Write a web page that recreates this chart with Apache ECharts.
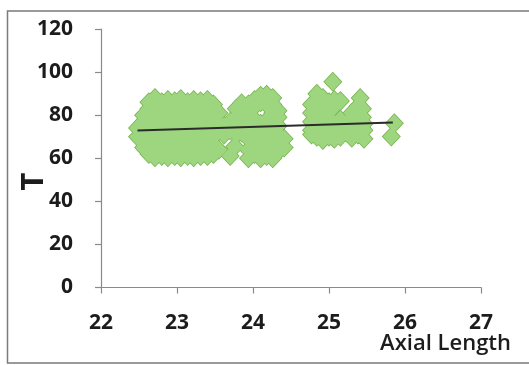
<!DOCTYPE html>
<html>
<head>
<meta charset="utf-8">
<script src="https://cdn.jsdelivr.net/npm/echarts@6/dist/echarts.min.js"></script>
<style>
  html, body { margin: 0; padding: 0; background: #fff; }
  #chart { width: 529px; height: 365px; }
</style>
</head>
<body>
<div id="chart"></div>
<script>
// Axial length (x) and T (y) values
var axialLength = [
  22.48, 22.48,
  22.56, 22.56, 22.56, 22.56, 22.56,
  22.63, 22.63, 22.63, 22.63, 22.63, 22.63, 22.63,
  22.71, 22.71, 22.71, 22.71, 22.71, 22.71, 22.71, 22.71,
  22.80, 22.80, 22.80, 22.80, 22.80, 22.80, 22.80,
  22.88, 22.88, 22.88, 22.88, 22.88, 22.88, 22.88, 22.88,
  22.97, 22.97, 22.97, 22.97, 22.97, 22.97, 22.97,
  23.05, 23.05, 23.05, 23.05, 23.05, 23.05, 23.05, 23.05,
  23.14, 23.14, 23.14, 23.14, 23.14, 23.14, 23.14,
  23.22, 23.22, 23.22, 23.22, 23.22, 23.22, 23.22, 23.22,
  23.31, 23.31, 23.31, 23.31, 23.31, 23.31, 23.31,
  23.40, 23.40, 23.40, 23.40, 23.40, 23.40, 23.40, 23.40,
  23.48, 23.48, 23.48, 23.48, 23.48, 23.48, 23.48,
  23.55, 23.55, 23.55,
  23.62, 23.62,
  23.70, 23.70, 23.70,
  23.78, 23.78, 23.78, 23.78, 23.76,
  23.85, 23.85, 23.85, 23.85,
  23.94, 23.94, 23.94, 23.94, 23.94, 23.94, 23.94,
  24.02, 24.02, 24.02, 24.02, 24.02, 24.02, 24.02,
  24.10, 24.10, 24.10, 24.10, 24.10, 24.10, 24.10,
  24.18, 24.18, 24.18, 24.18, 24.18, 24.18, 24.18,
  24.26, 24.26, 24.26, 24.26, 24.26, 24.26, 24.26, 24.26,
  24.33, 24.33, 24.33, 24.33, 24.33, 24.33,
  24.41, 24.41,
  24.77, 24.77, 24.77, 24.77, 24.77,
  24.84, 24.84, 24.84, 24.84, 24.84, 24.84,
  24.92, 24.92, 24.92, 24.92, 24.92, 24.92,
  25.00, 25.00, 25.00, 25.00, 25.00,
  25.07, 25.07, 25.07, 25.07, 25.07,
  25.15,
  25.05,
  25.41, 25.38, 25.44, 25.36, 25.44, 25.30,
  25.15, 25.15, 25.15,
  25.23, 25.23,
  25.30, 25.30, 25.30,
  25.38, 25.38,
  25.46, 25.46, 25.46,
  25.86, 25.82
];
var tValue = [
  70, 74,
  65, 69, 73, 77, 80,
  62, 66, 71, 75, 79, 83, 86,
  60.5, 64, 68, 72, 76, 80, 84, 88,
  61, 66, 70, 74, 78, 82, 86,
  60.5, 64, 68, 72, 76, 80, 84, 87,
  61, 66, 70, 74, 78, 82, 86.5,
  60.5, 64, 68, 72, 76, 80, 84, 87.5,
  61, 66, 70, 74, 78, 82, 86,
  60.5, 64, 68, 72, 76, 80, 84, 87,
  61, 66, 70, 74, 78, 82, 86.5,
  61, 64, 68, 72, 76, 80, 84, 87,
  62, 66, 70, 74, 78, 82, 85,
  64, 76, 81,
  71, 75,
  61, 73, 77,
  71, 75, 79, 83, 65.5,
  72, 76, 80, 85.5,
  60, 64, 69, 73, 77, 81, 85,
  62, 66, 70, 74, 78, 84, 87,
  60, 64, 68, 72, 76, 86, 89,
  61, 65, 70, 74, 77.5, 85, 89.5,
  60, 64, 68, 72, 76, 81, 85, 88,
  63, 67, 71, 75, 79, 82,
  65, 69,
  71, 73, 77, 81, 85,
  70, 75, 79, 83, 87, 90,
  68.5, 72, 76, 80, 84, 88,
  70, 74, 78, 82, 86,
  69, 72, 76, 84, 87,
  86.6,
  95.5,
  88, 84, 83, 80, 79, 81,
  70, 74, 78,
  72, 76,
  69.5, 73, 77,
  71, 75,
  69, 73, 76,
  76.3, 70.1
];
// Linear trendline end points
var trendX = [22.48, 25.84];
var trendY = [72.9, 76.6];
var xTicks = [22, 23, 24, 25, 26, 27];
var yTicks = [0, 20, 40, 60, 80, 100, 120];

var points = axialLength.map(function (x, i) { return [x, tValue[i]]; });
var trend = trendX.map(function (x, i) { return [x, trendY[i]]; });

var chart = echarts.init(document.getElementById('chart'), null, { renderer: 'canvas' });
var labelFont = { color: '#1c1c1c', fontFamily: 'Open Sans', fontWeight: 'bold', fontSize: 21 };
chart.setOption({
  animation: false,
  backgroundColor: '#ffffff',
  grid: { left: 101, top: 29, width: 380, height: 258.5, containLabel: false },
  xAxis: {
    type: 'value',
    min: xTicks[0], max: xTicks[xTicks.length - 1], interval: 1,
    axisLine: { lineStyle: { color: '#8a8a8a', width: 1.2 } },
    axisTick: { show: true, length: 6, lineStyle: { color: '#8a8a8a', width: 1.2 } },
    splitLine: { show: false },
    axisLabel: Object.assign({ margin: 25 }, labelFont)
  },
  yAxis: {
    type: 'value',
    min: yTicks[0], max: yTicks[yTicks.length - 1], interval: 20,
    axisLine: { show: true, lineStyle: { color: '#8a8a8a', width: 1.2 } },
    axisTick: { show: true, length: 6, lineStyle: { color: '#8a8a8a', width: 1.2 } },
    splitLine: { show: false },
    axisLabel: Object.assign({ margin: 28 }, labelFont)
  },
  graphic: [
    { type: 'rect', shape: { x: 7.5, y: 11, width: 530, height: 352 },
      style: { fill: 'none', stroke: '#7a7a7a', lineWidth: 1.5 }, silent: true, z: -10 },
    { type: 'text', x: 34, y: 181.5, rotation: Math.PI / 2,
      style: { text: 'T', fill: '#1c1c1c', font: 'bold 31px "Open Sans"', textAlign: 'center', textVerticalAlign: 'middle' } },
    { type: 'text', right: 18, top: 333,
      style: { text: 'Axial Length', fill: '#1c1c1c', font: '600 22px "Open Sans"' } }
  ],
  series: [
    {
      // outline layer: only the outer edge of the merged blob stays visible
      type: 'scatter',
      data: points,
      symbol: 'diamond',
      symbolSize: [19, 20],
      itemStyle: { color: '#74b04a', opacity: 1 },
      z: 2
    },
    {
      type: 'scatter',
      data: points,
      symbol: 'diamond',
      symbolSize: [17, 18],
      itemStyle: { color: '#9dd67f', opacity: 1 },
      z: 3
    },
    {
      type: 'line',
      data: trend,
      showSymbol: false,
      symbol: 'none',
      lineStyle: { color: '#2b2b2b', width: 2 },
      z: 5
    }
  ]
});
</script>
</body>
</html>
